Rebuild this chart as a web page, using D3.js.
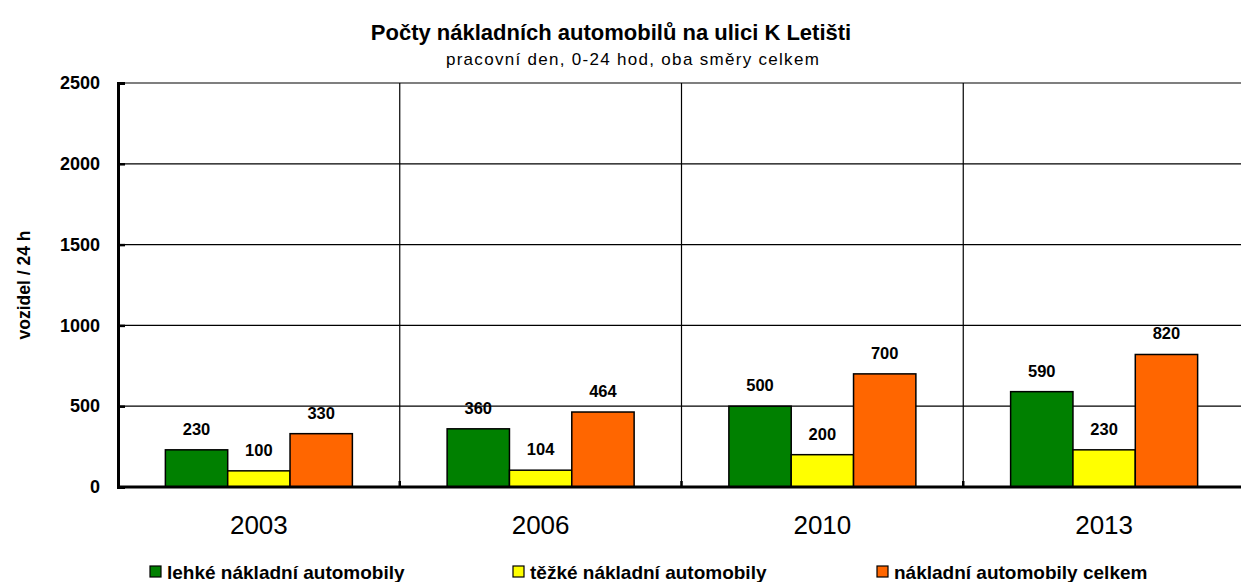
<!DOCTYPE html>
<html>
<head>
<meta charset="utf-8">
<script src="https://cdn.jsdelivr.net/npm/d3@7"></script>
<style>
  body { margin: 0; background: #fff; }
  text { font-family: Arial, "Liberation Sans", sans-serif; }
</style>
</head>
<body>
<svg id="chart" width="1241" height="582"></svg>
<script>
const years = ["2003", "2006", "2010", "2013"];
const seriesNames = ["lehké nákladní automobily", "těžké nákladní automobily", "nákladní automobily celkem"];
const lehke = [230, 360, 500, 590];
const tezke = [100, 104, 200, 230];
const celkem = [330, 464, 700, 820];
const yTicks = [0, 500, 1000, 1500, 2000, 2500];
const colors = ["#008000", "#ffff00", "#ff6600"];

const svg = d3.select("#chart");
const plotLeft = 118, plotRight = 1245, plotTop = 83, plotBottom = 487;

const x = d3.scaleBand().domain(years).range([plotLeft, plotRight]).padding(0);
const xs = d3.scaleBand().domain(seriesNames).range([0, x.bandwidth()]).paddingInner(0).paddingOuter(0.76);
const y = d3.scaleLinear().domain([0, 2500]).range([plotBottom, plotTop]);

// horizontal grid
svg.append("g").selectAll("line").data(yTicks).enter().append("line")
    .attr("x1", plotLeft).attr("x2", 1241)
    .attr("y1", d => y(d)).attr("y2", d => y(d))
    .attr("stroke", "#000").attr("stroke-width", 1.2);

// vertical separators
svg.append("g").selectAll("line").data(years.slice(1)).enter().append("line")
    .attr("x1", d => x(d)).attr("x2", d => x(d))
    .attr("y1", plotTop).attr("y2", plotBottom)
    .attr("stroke", "#000").attr("stroke-width", 1.2);

// bars
const rows = years.map((yr, i) => ({year: yr, vals: [lehke[i], tezke[i], celkem[i]]}));
const groups = svg.append("g").selectAll("g").data(rows).enter().append("g")
    .attr("transform", d => `translate(${x(d.year)},0)`);
groups.selectAll("rect").data(d => d.vals.map((v, k) => ({name: seriesNames[k], v, k}))).enter().append("rect")
    .attr("x", d => xs(d.name))
    .attr("y", d => y(d.v))
    .attr("width", xs.bandwidth())
    .attr("height", d => y(0) - y(d.v))
    .attr("fill", d => colors[d.k])
    .attr("stroke", "#000").attr("stroke-width", 1.5);
groups.selectAll("text").data(d => d.vals.map((v, k) => ({name: seriesNames[k], v, k}))).enter().append("text")
    .attr("x", d => xs(d.name) + xs.bandwidth() / 2)
    .attr("y", d => y(d.v) - 15)
    .attr("text-anchor", "middle")
    .attr("font-size", 16.5).attr("font-weight", "bold")
    .text(d => d.v);

// y axis
const yAxis = svg.append("g").attr("transform", `translate(${plotLeft},0)`)
    .call(d3.axisLeft(y).tickValues(yTicks).tickSize(-7).tickPadding(18).tickFormat(d3.format("d")));
yAxis.select(".domain").attr("stroke-width", 3);
yAxis.selectAll(".tick line").attr("stroke-width", 2.5);
yAxis.selectAll("text").attr("font-size", 18).attr("font-weight", "bold").attr("fill", "#000")
    .attr("font-family", "Arial, 'Liberation Sans', sans-serif");

// x axis
const xAxis = svg.append("g").attr("transform", `translate(0,${plotBottom})`)
    .call(d3.axisBottom(x).tickSize(0).tickPadding(29));
xAxis.select(".domain").attr("stroke-width", 3).attr("d", `M${plotLeft},0H1241`);
xAxis.selectAll("text").attr("font-size", 26).attr("fill", "#000")
    .attr("font-family", "Arial, 'Liberation Sans', sans-serif");
svg.append("g").selectAll("line").data(years.slice(1)).enter().append("line")
    .attr("x1", d => x(d)).attr("x2", d => x(d))
    .attr("y1", plotBottom).attr("y2", plotBottom - 6)
    .attr("stroke", "#000").attr("stroke-width", 2.5);

// y title
svg.append("text")
    .attr("transform", "translate(30,285) rotate(-90)")
    .attr("text-anchor", "middle")
    .attr("font-size", 17.5).attr("font-weight", "bold")
    .text("vozidel / 24 h");

// titles
svg.append("text").attr("x", 611).attr("y", 40).attr("text-anchor", "middle")
    .attr("font-size", 22).attr("font-weight", "bold")
    .text("Počty nákladních automobilů na ulici K Letišti");
svg.append("text").attr("x", 633).attr("y", 65).attr("text-anchor", "middle")
    .attr("font-size", 17).attr("letter-spacing", 1.3)
    .text("pracovní den, 0-24 hod, oba směry celkem");

// legend
const legendX = [150, 513, 877];
const legend = svg.append("g").selectAll("g").data(seriesNames).enter().append("g")
    .attr("transform", (d, i) => `translate(${legendX[i]},566)`);
legend.append("rect").attr("width", 11).attr("height", 11)
    .attr("fill", (d, i) => colors[i]).attr("stroke", "#000").attr("stroke-width", 1.2);
legend.append("text").attr("x", 17).attr("y", 12.5)
    .attr("font-size", 19).attr("font-weight", "bold")
    .text(d => d);
</script>
</body>
</html>
